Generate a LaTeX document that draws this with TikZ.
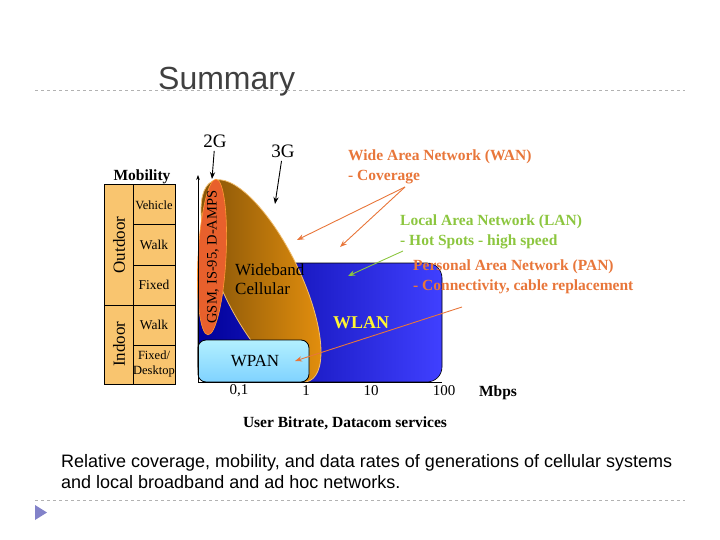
\documentclass[tikz,border=0pt]{standalone}
\usepackage{fontspec}
\setmainfont{Liberation Serif}
\newfontfamily\sans{Liberation Sans}
\usetikzlibrary{arrows.meta,shapes.geometric}
\definecolor{cell}{HTML}{F9C56F}
\definecolor{wan}{HTML}{E8763A}
\definecolor{lan}{HTML}{8CC63F}
\definecolor{wband}{HTML}{E8920E}
\definecolor{gsmc}{HTML}{E8602C}
\tikzset{
  tab/.style={draw=black,line width=1pt,fill=cell},
  lbl/.style={font=\fontsize{13.5}{15}\selectfont},
  note/.style={font=\bfseries\fontsize{15.5}{17}\selectfont,anchor=west,inner sep=0},
  arr/.style={-{Stealth[length=7pt]},line width=0.9pt},
}
\begin{document}
\begin{tikzpicture}[x=1pt,y=-1pt]
\useasboundingbox (0,0) rectangle (720,540);
% title & rules
\node[font=\sans\fontsize{32}{34}\selectfont,text=black!75,anchor=base west,inner sep=0] (title) at (158,90) {Summary};
\draw[gray!60,dashed,line width=0.8pt] (35,90) -- (685,90);
\draw[gray!60,dashed,line width=0.8pt] (35,500) -- (685,500);
\fill[gray!60!blue!70] (35,505) -- (47,512.5) -- (35,520) -- cycle;
\node[font=\sans\fontsize{18}{21}\selectfont,anchor=north west,align=left,inner sep=0] (cap) at (61,454) {Relative coverage, mobility, and data rates of generations of cellular systems\\and local broadband and ad hoc networks.};
% mobility table
\node[font=\bfseries\fontsize{15.5}{17}\selectfont] (mob) at (142,177) {Mobility};
\draw[tab] (104,185) rectangle (133,305);
\draw[tab] (104,305) rectangle (133,384);
\node[rotate=90,font=\fontsize{17}{18}\selectfont] (out) at (119,245) {Outdoor};
\node[rotate=90,font=\fontsize{17}{18}\selectfont] (ind) at (119,344) {Indoor};
\draw[tab] (133,185) rectangle (175,225);
\draw[tab] (133,225) rectangle (175,265);
\draw[tab] (133,265) rectangle (175,305);
\draw[tab] (133,305) rectangle (175,345);
\draw[tab] (133,345) rectangle (175,384);
\node[font=\fontsize{12.5}{14}\selectfont] (veh) at (154,205) {Vehicle};
\node[lbl] (walk1) at (154,245) {Walk};
\node[lbl] (fix) at (154,285) {Fixed};
\node[lbl] (walk2) at (154,325) {Walk};
\node[align=center,font=\fontsize{12.5}{15}\selectfont,inner sep=0] (desk) at (154,364) {Fixed/\\Desktop};
% WLAN
\shade[left color=blue!60!black,right color=blue!75,rounded corners=15pt,draw=black,line width=0.6pt] (198,263) rectangle (442,382);
\node[font=\bfseries\fontsize{18}{19}\selectfont,text=yellow!80!white] (wlan) at (361,323) {WLAN};
% wideband ellipse
\shade[rotate around={-64:(261,281)},left color=wband!55!black,right color=wband,draw=wband!60!white,line width=0.8pt] (261,281) ellipse (111 and 39);
\node[font=\fontsize{17}{19}\selectfont,align=left,anchor=west,inner sep=0] (wb) at (235,279) {Wideband\\Cellular};
% GSM
\fill[rotate around={-3:(212,257)},color=gsmc,draw=orange!80!white,line width=0.6pt] (212,257) ellipse (14 and 78);
\node[rotate=90,font=\fontsize{14.5}{15}\selectfont] (gsm) at (213,257) {GSM, IS-95, D-AMPS};
% WPAN
\shade[top color=blue!20!cyan!30,bottom color=blue!35!cyan!50,rounded corners=8pt,draw=black,line width=0.8pt] (198,340) rectangle (309,382);
\node[font=\fontsize{17}{18}\selectfont] (wpan) at (255,361) {WPAN};
% axes
\coordinate (o) at (198,382);
\coordinate (ytop) at (198,175);
\draw[-{Stealth[length=5pt]},line width=0.8pt] (o) -- (ytop);
\draw[line width=0.8pt] (o) -- (442,382);
\node[font=\fontsize{15}{16}\selectfont] (x01) at (239,391) {0,1};
\node[font=\fontsize{15}{16}\selectfont] (x1) at (306,391) {1};
\node[font=\fontsize{15}{16}\selectfont] (x10) at (371,391) {10};
\node[font=\fontsize{15}{16}\selectfont] (x100) at (444,391) {100};
\node[font=\bfseries\fontsize{15.5}{16}\selectfont] (mbps) at (498,393) {Mbps};
\node[font=\bfseries\fontsize{15.5}{16}\selectfont] (ub) at (345,423) {User Bitrate, Datacom services};
% 2G 3G
\node[font=\fontsize{19}{20}\selectfont] (g2) at (215,141) {2G};
\coordinate (g2t) at (212,179);
\draw[arr] (g2) -- (g2t);
\node[font=\fontsize{19}{20}\selectfont] (g3) at (283,151) {3G};
\coordinate (g3t) at (275,204);
\draw[arr] (g3) -- (g3t);
% notes
\node[note,text=wan] (wanl) at (348,157) {Wide Area Network (WAN)};
\node[note,text=wan] (cov) at (348,177) {- Coverage};
\coordinate (w0) at (405,187);
\coordinate (w1) at (297,240);
\coordinate (w2) at (340,247);
\draw[arr,wan] (w0) -- (w1);
\draw[arr,wan] (w0) -- (w2);
\node[note,text=lan] (lanl) at (400,222) {Local Area Network (LAN)};
\node[note,text=lan] (hot) at (400,242) {- Hot Spots - high speed};
\coordinate (l0) at (403,251);
\coordinate (l1) at (348,276);
\draw[arr,lan] (l0) -- (l1);
\node[note,text=wan] (panl) at (413,267) {Personal Area Network (PAN)};
\node[note,text=wan] (conn) at (413,287) {- Connectivity, cable replacement};
\coordinate (p0) at (462,307);
\coordinate (p1) at (295,361);
\draw[arr,wan] (p0) -- (p1);
\end{tikzpicture}
\end{document}
